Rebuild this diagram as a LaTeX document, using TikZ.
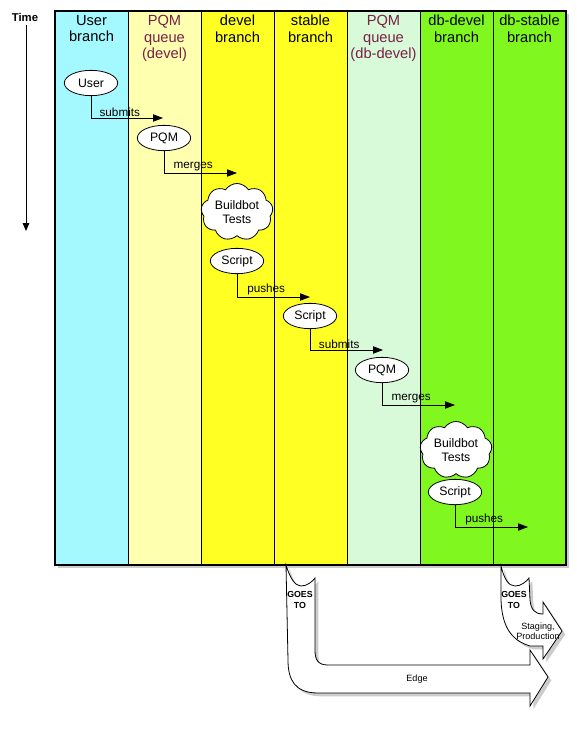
\documentclass[tikz,border=0pt]{standalone}
\usepackage{fontspec}
\setmainfont{Liberation Sans}
\usetikzlibrary{positioning,shapes.geometric,shapes.symbols,shadows,arrows.meta}
\definecolor{usercol}{RGB}{164,248,255}
\definecolor{pqmcol}{RGB}{255,255,176}
\definecolor{develcol}{RGB}{255,255,36}
\definecolor{dbpqmcol}{RGB}{216,250,216}
\definecolor{dbcol}{RGB}{128,248,32}
\definecolor{queuetext}{RGB}{120,32,72}
\tikzset{
  lanehead/.style={
    anchor=north,
    align=center,
    inner sep=0pt,
    font=\fontsize{11}{12.4}\selectfont,
  },
  actor/.style={
    draw,
    ellipse,
    fill=white,
    minimum width=40pt,
    minimum height=19pt,
    inner sep=0pt,
    line width=0.6pt,
    font=\fontsize{9.2}{10}\selectfont,
  },
  testcloud/.style={
    draw,
    cloud,
    cloud puffs=9,
    cloud puff arc=115,
    aspect=1.3,
    fill=white,
    minimum width=54pt,
    minimum height=42pt,
    inner sep=0pt,
    align=center,
    line width=0.6pt,
    font=\fontsize{9.2}{10.5}\selectfont,
  },
  flow/.style={-{Triangle[length=7.5pt,width=5.5pt]}, line width=0.6pt},
  verb/.style={pos=0.7, above, inner sep=1pt, font=\fontsize{8.8}{9}\selectfont},
  bigarrow/.style={draw, fill=white, line width=0.6pt,
    drop shadow={shadow xshift=2.5pt, shadow yshift=-2.5pt, opacity=0.4}},
  goes/.style={align=center, inner sep=0pt, font=\fontsize{6.6}{8}\selectfont\bfseries},
  dest/.style={align=center, inner sep=0pt, font=\fontsize{6.8}{7.8}\selectfont},
}

\begin{document}
\begin{tikzpicture}[x=0.75pt, y=-0.75pt]
  \useasboundingbox (0,0) rectangle (576,733);

  % lanes
  \fill[white, drop shadow={shadow xshift=2.5pt, shadow yshift=-2.5pt, opacity=0.4}]
    (55,11) rectangle (566,565);
  \foreach \i/\c in {0/usercol,1/pqmcol,2/develcol,3/develcol,4/dbpqmcol,5/dbcol,6/dbcol} {
    \fill[\c] (55+\i*73,11) rectangle ++(73,554);
  }
  \foreach \i in {1,...,6} {
    \draw[line width=0.6pt] (55+\i*73,11) -- ++(0,554);
  }
  \draw[line width=0.9pt] (55,11) rectangle (566,565);

  % lane titles
  \node[lanehead] (h0) at (91.5,15) {User\\branch};
  \node[lanehead, text=queuetext] (h1) at (164.5,15) {PQM\\queue\\(devel)};
  \node[lanehead] (h2) at (237.5,15) {devel\\branch};
  \node[lanehead] (h3) at (310.5,15) {stable\\branch};
  \node[lanehead, text=queuetext] (h4) at (383.5,15) {PQM\\queue\\(db-devel)};
  \node[lanehead] (h5) at (456.5,15) {db-devel\\branch};
  \node[lanehead] (h6) at (529.5,15) {db-stable\\branch};

  % time axis
  \node[font=\fontsize{8.5}{10}\selectfont\bfseries] (time) at (25,17) {Time};
  \coordinate (tend) at (26,231);
  \draw[-{Triangle[length=6pt,width=5pt]}, line width=0.6pt] (26,25) -- (tend);

  % steps
  \node[actor] (user) at (91,83) {User};
  \node[actor] (pqm1) at (164,138) {PQM};
  \node[testcloud] (bb1) at (237,212) {Buildbot\\Tests};
  \node[actor] (scr1) at (237,261) {Script};
  \node[actor] (scr2) at (310,316) {Script};
  \node[actor] (pqm2) at (382,370) {PQM};
  \node[testcloud] (bb2) at (456,450) {Buildbot\\Tests};
  \node[actor] (scr3) at (455,492) {Script};

  \coordinate (e1) at (163,118);
  \coordinate (e2) at (237,173);
  \coordinate (e3) at (310,297);
  \coordinate (e4) at (383,350);
  \coordinate (e5) at (455,405);
  \coordinate (e6) at (528,527);
  \foreach \a/\b/\t in {user/e1/submits, pqm1/e2/merges, scr1/e3/pushes,
                        scr2/e4/submits, pqm2/e5/merges, scr3/e6/pushes} {
    \draw[flow] (\a.south) |- (\b) node[verb] {\t};
  }

  % where the branches go
  \draw[bigarrow] (286,565) .. controls (290,578) and (295,586) .. (301,586)
    .. controls (307,586) and (312,582) .. (315,578)
    -- (315,650) .. controls (315,660) and (318,665) .. (328,665)
    -- (530,665) -- (530,650) -- (548,677) -- (530,706) -- (530,693)
    -- (318,693) .. controls (295,693) and (288,680) .. (288,660) -- cycle;
  \draw[bigarrow] (501,566) .. controls (504,578) and (508,586) .. (515,586)
    .. controls (521,586) and (526,582) .. (529,578)
    -- (530,600) .. controls (531,610) and (535,614) .. (543,614)
    -- (543,602) -- (562,631) -- (543,659) -- (543,646)
    -- (530,646) .. controls (510,640) and (502,625) .. (501,600) -- cycle;

  \node[goes] (goes1) at (300,600) {GOES\\TO};
  \node[goes] (goes2) at (514,600) {GOES\\TO};
  \node[dest] (edge) at (417,679) {Edge};
  \node[dest] (prod) at (538,631) {Staging,\\Production};
\end{tikzpicture}
\end{document}
